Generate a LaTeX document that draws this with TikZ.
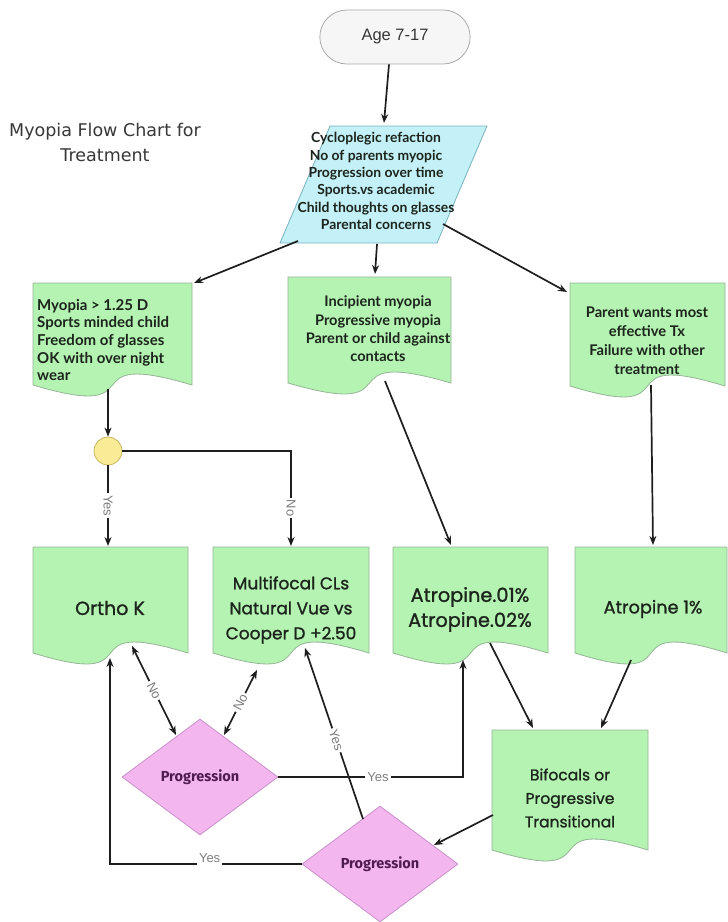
\documentclass[tikz,border=0pt]{standalone}
\usepackage{fontspec}
\usetikzlibrary{shapes.geometric,shapes.misc,arrows.meta,calc}
\setmainfont{Liberation Sans}
\newfontfamily\titlefont{DejaVu Sans}
\newfontfamily\docfont{Lato}
\newfontfamily\bigfont{Poppins}[FakeBold=1.2]
\newfontfamily\diafont{Fira Sans}
\definecolor{docgreen}{RGB}{180,243,178}
\definecolor{docedge}{RGB}{150,180,150}
\definecolor{cyanfill}{RGB}{196,240,247}
\definecolor{cyanedge}{RGB}{120,180,192}
\definecolor{pinkfill}{RGB}{244,182,238}
\definecolor{pinkedge}{RGB}{200,145,200}
\definecolor{yelfill}{RGB}{250,235,150}
\definecolor{yeledge}{RGB}{200,182,95}
\definecolor{termfill}{RGB}{246,246,246}
\definecolor{termedge}{RGB}{170,170,170}
\definecolor{linec}{RGB}{30,30,30}
\definecolor{lblgray}{RGB}{125,125,125}
\definecolor{txtdark}{RGB}{28,36,28}
\definecolor{purpletxt}{RGB}{80,28,80}
\definecolor{titlegray}{RGB}{55,55,55}
\newcommand\docshape[4]{%
  \pgfmathsetmacro\dca{#3-0.8*(#3-#1)}%
  \pgfmathsetmacro\dcb{#1+0.8*(#3-#1)}%
  \draw[docst] (#1,#2) -- (#3,#2) -- (#3,#4) .. controls (\dca,#4-38) and (\dcb,#4+38) .. (#1,#4) -- cycle;%
}
\tikzset{
  docst/.style={fill=docgreen, draw=docedge, line width=0.8pt},
  arr/.style={draw=linec, line width=1.7pt, -{Stealth[length=9pt,width=7pt]}},
  darr/.style={draw=linec, line width=1.7pt, {Stealth[length=9pt,width=7pt]}-{Stealth[length=9pt,width=7pt]}},
  lbl/.style={font=\fontsize{13}{13}\selectfont, text=lblgray, fill=white, inner sep=2pt},
  smalltxt/.style={font=\docfont\bfseries\fontsize{13}{17.5}\selectfont, text=txtdark, align=center, inner sep=0pt},
  bigtxt/.style={font=\bigfont\fontsize{17}{25}\selectfont, align=center, text=txtdark, inner sep=0pt},
  dia/.style={diamond, fill=pinkfill, draw=pinkedge, line width=0.8pt, minimum width=156pt, minimum height=116pt, inner sep=0pt, font=\diafont\bfseries\fontsize{14.5}{15}\selectfont, text=purpletxt},
}
\begin{document}
\begin{tikzpicture}[x=1pt,y=-1pt]
\useasboundingbox (0,0) rectangle (728,922);

% title
\node[font=\titlefont\fontsize{17.5}{25}\selectfont, text=titlegray, align=center] (title) at (105,142) {Myopia Flow Chart for\\Treatment};

% terminal
\node[rounded rectangle, fill=termfill, draw=termedge, line width=0.8pt, minimum width=157pt, minimum height=54pt, font=\fontsize{16.5}{16.5}\selectfont, text=titlegray] (age) at (395,37) {Age 7-17};

% parallelogram
\draw[fill=cyanfill, draw=cyanedge, line width=0.8pt] (330,126) -- (487,126) -- (437,243) -- (280,243) -- cycle;
\node[smalltxt, font=\docfont\bfseries\fontsize{13.9}{17.4}\selectfont] (para) at (376,181) {Cycloplegic refaction\\No of parents myopic\\Progression over time\\Sports.vs academic\\Child thoughts on glasses\\Parental concerns};

% top row documents
\docshape{33}{283}{192}{385}
\node[smalltxt, align=left, anchor=west, font=\docfont\bfseries\fontsize{15}{17.6}\selectfont] (nleft) at (37,340) {Myopia > 1.25 D\\Sports minded child\\Freedom of glasses\\OK with over night\\wear};
\docshape{288}{277}{451}{383}
\node[smalltxt, font=\docfont\bfseries\fontsize{14.6}{18.3}\selectfont] (ncenter) at (378,329) {Incipient myopia\\Progressive myopia\\Parent or child against\\contacts};
\docshape{570}{283}{725}{386}
\node[smalltxt, font=\docfont\bfseries\fontsize{14.7}{19}\selectfont] (nright) at (647,341) {Parent wants most\\effective Tx\\Failure with other\\treatment};

% decision circle
\node[circle, fill=yelfill, draw=yeledge, line width=0.8pt, minimum size=28pt, inner sep=0pt] (circ) at (108,451) {};

% second row documents
\docshape{33}{547}{188}{653}
\node[bigtxt, font=\bigfont\fontsize{19}{25}\selectfont] (orthok) at (110,608) {Ortho K};
\docshape{213}{547}{369}{653}
\node[bigtxt, font=\bigfont\fontsize{17}{25}\selectfont] (multi) at (291,610) {Multifocal CLs\\Natural Vue vs\\Cooper D +2.50};
\docshape{393}{547}{548}{653}
\node[bigtxt, font=\bigfont\fontsize{19.3}{25}\selectfont] (atro) at (470,609.5) {Atropine.01\%\\Atropine.02\%};
\docshape{575}{547}{727}{653}
\node[bigtxt, font=\bigfont\fontsize{17.7}{25}\selectfont] (atro1) at (653,609) {Atropine 1\%};

% bifocals
\docshape{492}{730}{648}{850}
\node[bigtxt, font=\bigfont\fontsize{15.5}{23.5}\selectfont] (bifo) at (570,798) {Bifocals or\\Progressive\\Transitional};

% diamonds
\node[dia] (d1) at (200,777) {Progression};
\node[dia] (d2) at (380,864) {Progression};

% connector end points
\coordinate (p1) at (384,123);
\coordinate (pl) at (298,241);
\coordinate (plend) at (194,283);
\coordinate (pc) at (377,244);
\coordinate (pcend) at (375,274);
\coordinate (pr) at (443,224);
\coordinate (prend) at (567,292);
\coordinate (lbot) at (108,389);
\coordinate (okTop) at (108,546);
\coordinate (noCorner) at (291,451);
\coordinate (muTop) at (291,546);
\coordinate (cbot) at (385,381);
\coordinate (atTop) at (451,545);
\coordinate (rbot) at (651,385);
\coordinate (a1Top) at (653,545);
\coordinate (atBot) at (490,643);
\coordinate (bfTopL) at (533,728);
\coordinate (a1Bot) at (631,660);
\coordinate (bfTopR) at (601,728);
\coordinate (bfLeft) at (493,815);
\coordinate (d2in) at (434,845);
\coordinate (okBot) at (132,646);
\coordinate (d1ul) at (176,735);
\coordinate (muBotL) at (257,670);
\coordinate (d1ur) at (224,735);
\coordinate (atBotL) at (463,660);
\coordinate (d2ul) at (363,819);
\coordinate (muBotR) at (305,648);
\coordinate (okBotL) at (110,658);

% connectors
\draw[arr] ([xshift=-6pt]age.south) -- (p1);
\draw[arr] (pl) -- (plend);
\draw[arr] (pc) -- (pcend);
\draw[arr] (pr) -- (prend);
\draw[arr] (lbot) -- (circ.north);
\draw[arr] (circ.south) -- (okTop) node[lbl, midway, rotate=-90] {Yes};
\draw[arr] (circ.east) -- (noCorner) -- (muTop) node[lbl, pos=0.6, rotate=-90] {No};
\draw[arr] (cbot) -- (atTop);
\draw[arr] (rbot) -- (a1Top);
\draw[arr] (atBot) -- (bfTopL);
\draw[arr] (a1Bot) -- (bfTopR);
\draw[arr] (bfLeft) -- (d2in);
\draw[darr] (okBot) -- (d1ul) node[lbl, midway, sloped] {No};
\draw[darr] (d1ur) -- (muBotL) node[lbl, midway, sloped] {No};
\draw[arr] (d1.east) -| (atBotL) node[lbl, pos=0.27] {Yes};
\draw[arr] (d2ul) -- (muBotR) node[lbl, pos=0.46, sloped] {Yes};
\draw[arr] (d2.west) -| (okBotL) node[lbl, pos=0.24, yshift=6pt] {Yes};
\end{tikzpicture}
\end{document}
